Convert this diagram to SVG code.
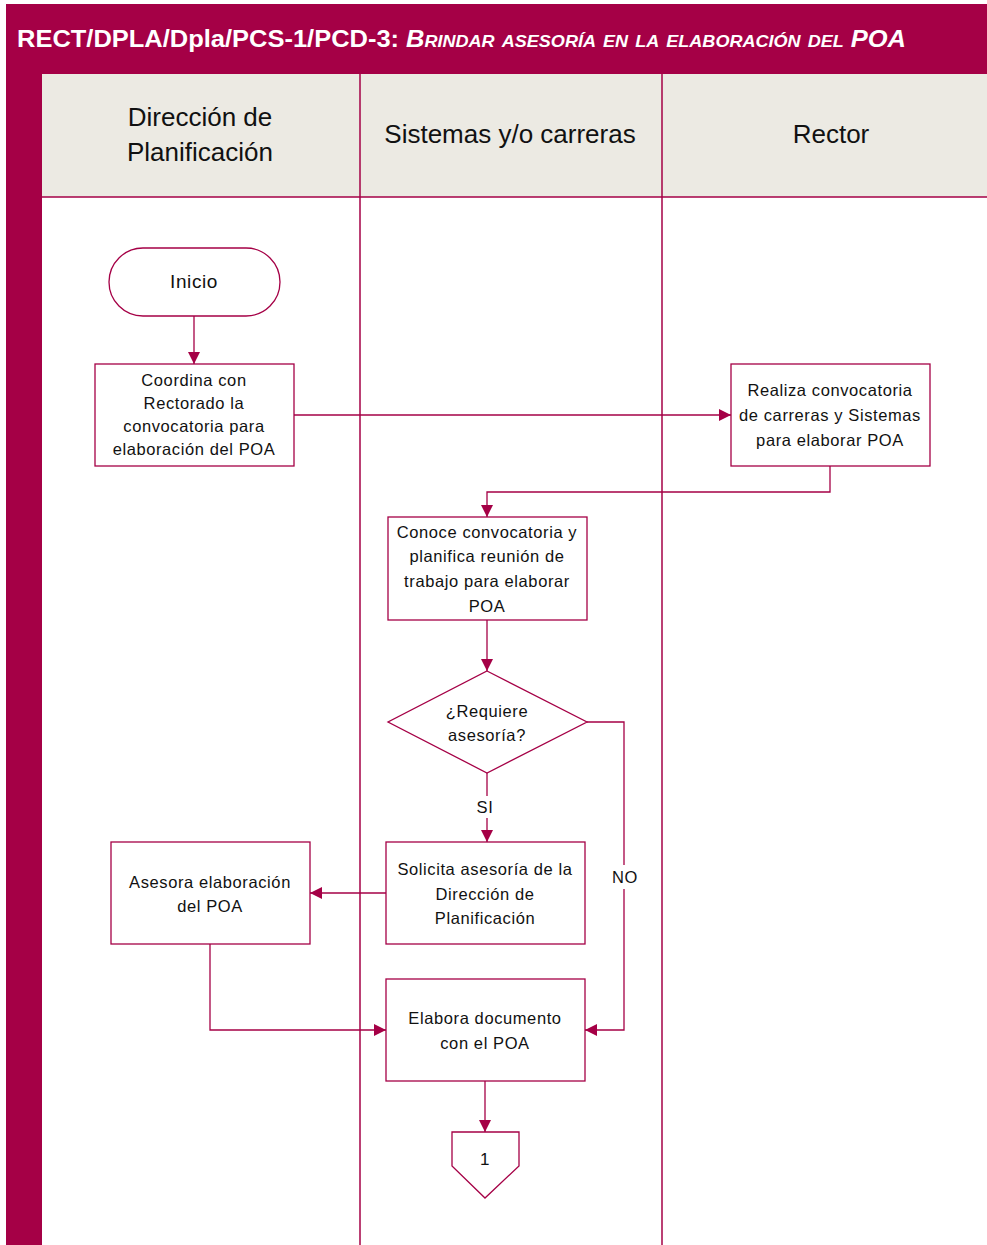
<svg xmlns="http://www.w3.org/2000/svg" width="987" height="1245" viewBox="0 0 987 1245">
  <defs>
    <marker id="arrow" viewBox="0 0 10 10" refX="10" refY="5" markerWidth="12" markerHeight="12" markerUnits="userSpaceOnUse" orient="auto">
      <path d="M0,0 L10,5 L0,10 z" fill="#A50046"/>
    </marker>
    <style>
      .lane { stroke: #A50046; stroke-width: 1.5; fill: none; }
      .node { fill: #FFFFFF; stroke: #A50046; stroke-width: 1.3; }
      .edge { fill: none; stroke: #A50046; stroke-width: 1.3; }
      .t { font-family: "Liberation Sans", Arial, sans-serif; font-size: 16.5px; letter-spacing: 0.6px; fill: #111111; text-anchor: middle; }
      .hdr { font-family: "Liberation Sans", Arial, sans-serif; font-size: 26px; fill: #111111; text-anchor: middle; }
      .title { font-family: "Liberation Sans", Arial, sans-serif; font-size: 24px; font-weight: bold; fill: #FFFFFF; }
    </style>
  </defs>

  <!-- frame and title band -->
  <rect x="0" y="0" width="987" height="1245" fill="#FFFFFF"/>
  <rect x="6" y="4" width="981" height="70" fill="#A50046"/>
  <rect x="6" y="4" width="36" height="1241" fill="#A50046"/>
  <text class="title" x="17" y="47" textLength="889" lengthAdjust="spacingAndGlyphs">RECT/DPLA/Dpla/PCS-1/PCD-3: <tspan font-style="italic" font-variant="small-caps">Brindar asesoría en la elaboración del POA</tspan></text>

  <!-- lane headers -->
  <rect x="42" y="74" width="945" height="123" fill="#ECEAE3"/>
  <line class="lane" x1="42" y1="197" x2="987" y2="197"/>
  <line class="lane" x1="360" y1="74" x2="360" y2="1245"/>
  <line class="lane" x1="662" y1="74" x2="662" y2="1245"/>
  <text class="hdr" x="200" y="126">Dirección de</text>
  <text class="hdr" x="200" y="161">Planificación</text>
  <text class="hdr" x="510" y="143">Sistemas y/o carreras</text>
  <text class="hdr" x="831" y="143">Rector</text>

  <!-- connectors -->
  <g id="connectors">
    <path class="edge" d="M194,316 V364" marker-end="url(#arrow)"/>
    <path class="edge" d="M294,415 H731" marker-end="url(#arrow)"/>
    <path class="edge" d="M830,466 V492 H487 V517" marker-end="url(#arrow)"/>
    <path class="edge" d="M487,620 V671" marker-end="url(#arrow)"/>
    <path class="edge" d="M487,773 V796"/>
    <path class="edge" d="M487,818 V842" marker-end="url(#arrow)"/>
    <text class="t" x="485" y="813">SI</text>
    <path class="edge" d="M587,722 H624 V865"/>
    <path class="edge" d="M624,889 V1030 H585" marker-end="url(#arrow)"/>
    <text class="t" x="625" y="883">NO</text>
    <path class="edge" d="M386,893 H310" marker-end="url(#arrow)"/>
    <path class="edge" d="M210,944 V1030 H386" marker-end="url(#arrow)"/>
    <path class="edge" d="M485,1081 V1132" marker-end="url(#arrow)"/>
  </g>

  <!-- nodes -->
  <g id="inicio">
    <rect class="node" x="109" y="248" width="171" height="68" rx="34" ry="34"/>
    <text class="t" x="194" y="288" style="font-size:19px">Inicio</text>
  </g>
  <g id="coordina">
    <rect class="node" x="95" y="364" width="199" height="102"/>
    <text class="t" x="194" y="386">Coordina con</text>
    <text class="t" x="194" y="409">Rectorado la</text>
    <text class="t" x="194" y="432">convocatoria para</text>
    <text class="t" x="194" y="455">elaboración del POA</text>
  </g>
  <g id="realiza">
    <rect class="node" x="731" y="364" width="199" height="102"/>
    <text class="t" x="830" y="396">Realiza convocatoria</text>
    <text class="t" x="830" y="421">de carreras y Sistemas</text>
    <text class="t" x="830" y="446">para elaborar POA</text>
  </g>
  <g id="conoce">
    <rect class="node" x="388" y="517" width="199" height="103"/>
    <text class="t" x="487" y="538">Conoce convocatoria y</text>
    <text class="t" x="487" y="562">planifica reunión de</text>
    <text class="t" x="487" y="587">trabajo para elaborar</text>
    <text class="t" x="487" y="612">POA</text>
  </g>
  <g id="requiere">
    <polygon class="node" points="487,671 587,722 487,773 388,722"/>
    <text class="t" x="487" y="717">¿Requiere</text>
    <text class="t" x="487" y="741">asesoría?</text>
  </g>
  <g id="solicita">
    <rect class="node" x="386" y="842" width="199" height="102"/>
    <text class="t" x="485" y="875">Solicita asesoría de la</text>
    <text class="t" x="485" y="900">Dirección de</text>
    <text class="t" x="485" y="924">Planificación</text>
  </g>
  <g id="asesora">
    <rect class="node" x="111" y="842" width="199" height="102"/>
    <text class="t" x="210" y="888">Asesora elaboración</text>
    <text class="t" x="210" y="912">del POA</text>
  </g>
  <g id="elabora">
    <rect class="node" x="386" y="979" width="199" height="102"/>
    <text class="t" x="485" y="1024">Elabora documento</text>
    <text class="t" x="485" y="1049">con el POA</text>
  </g>
  <g id="conector-1">
    <polygon class="node" points="452,1132 519,1132 519,1166 485,1198 452,1166"/>
    <text class="t" x="485" y="1165" style="font-size:17px">1</text>
  </g>
</svg>
